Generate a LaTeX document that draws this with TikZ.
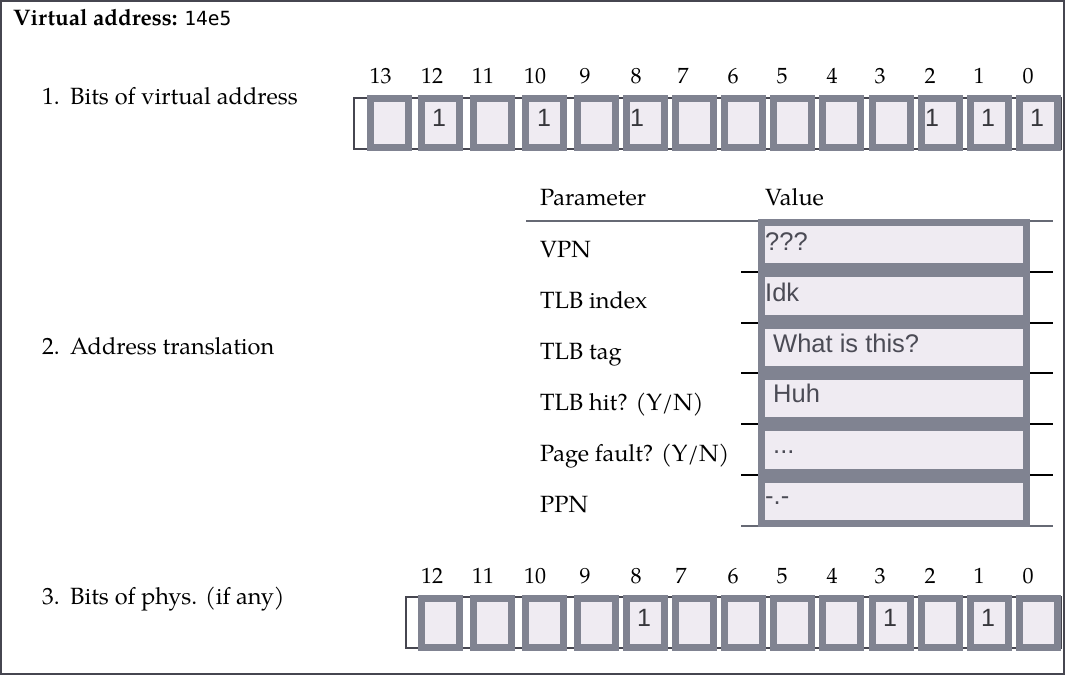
\documentclass[tikz,border=0pt]{standalone}
\usepackage{fontspec}
\setmainfont{texgyrepagella}[Extension=.otf,UprightFont=*-regular,BoldFont=*-bold,ItalicFont=*-italic,BoldItalicFont=*-bolditalic]
\newfontfamily\valfont{Liberation Sans}
\newfontfamily\codefont{DejaVu Sans Mono}
\definecolor{boxborder}{RGB}{128,131,145}
\definecolor{boxfill}{RGB}{239,235,242}
\definecolor{framecol}{RGB}{70,70,80}
\definecolor{valtext}{RGB}{75,75,85}
\definecolor{bittext}{RGB}{55,55,60}
\tikzset{
  bitbox/.style={draw=boxborder, fill=boxfill, line width=7pt, minimum width=38pt, minimum height=49pt, inner sep=0pt, outer sep=0pt},
  valbox/.style={draw=boxborder, fill=boxfill, line width=7pt, minimum width=265pt, minimum height=44.3pt, inner sep=0pt, outer sep=0pt},
  serif/.style={font=\fontsize{23.5}{27}\selectfont, inner sep=0pt, text=black, anchor=base west},
  numlab/.style={font=\fontsize{22}{26}\selectfont, inner sep=0pt, text=black, anchor=base},
  bitval/.style={font=\valfont\fontsize{25}{29}\selectfont, inner sep=0pt, text=bittext, anchor=base},
  valtxt/.style={font=\valfont\fontsize{25.5}{29}\selectfont, inner sep=0pt, text=valtext, anchor=base west},
  backrect/.style={draw=framecol, line width=1.5pt},
  headline/.style={draw=boxborder!80!black, line width=1.6pt},
  rowline/.style={draw=black, line width=1.1pt}
}
\begin{document}
\begin{tikzpicture}[x=1pt,y=-1pt]
\useasboundingbox (0,0) rectangle (1067,675);
\fill[white] (0,0) rectangle (1067,675);
\draw[framecol, line width=1.3pt] (1,1) rectangle (1064,674);

% title
\node[serif, font=\fontsize{22.5}{26}\selectfont] (title) at (13,25) {\textbf{Virtual address:}\hspace{7pt}{\codefont\fontsize{19.5}{22}\selectfont 14e5}};

% section labels
\node[serif] (s1n) at (42,104) {1.};
\node[serif] (s1) at (70,104) {Bits of virtual address};
\node[serif] (s2n) at (42,354) {2.};
\node[serif] (s2) at (70,354) {Address translation};
\node[serif] (s3n) at (42,604) {3.};
\node[serif] (s3) at (70,604) {Bits of phys. (if any)};

% top bit row
\draw[backrect] (354,98) rectangle (1061,149);
\foreach \i/\x/\c/\n in {0/367/380.5/13,1/418/432/12,2/470/483/11,3/522/535/10,4/574/585/9,5/623/636/8,6/672/683/7,7/721/733/6,8/770/782/5,9/819/832/4,10/869/880/3,11/918/930/2,12/967/979/1,13/1016/1028/0}{
  \node[bitbox] (t\i) at (\x+22.5,123) {};
  \node[numlab] (tn\i) at (\c,83) {\n};
}
\foreach \i/\x in {1/439,3/544,5/637,11/932,12/988,13/1037}{
  \node[bitval] (tv\i) at (\x,126) {1};
}

% bottom bit row
\draw[backrect] (406,597) rectangle (1061,648);
\foreach \i/\x/\c/\n in {1/418/432/12,2/470/483/11,3/522/535/10,4/574/585/9,5/623/636/8,6/672/681/7,7/721/733/6,8/770/782/5,9/819/832/4,10/869/880/3,11/918/930/2,12/967/979/1,13/1016/1028/0}{
  \node[bitbox] (b\i) at (\x+22.5,623) {};
  \node[numlab] (bn\i) at (\c,583) {\n};
}
\foreach \i/\x in {5/644,10/890,12/988}{
  \node[bitval] (bv\i) at (\x,626) {1};
}

% table
\node[serif] (hp) at (540,205) {Parameter};
\node[serif] (hv) at (765,205) {Value};
\draw[headline] (526,221) -- (1053,221);
\foreach \y in {272,323,373,424,475}{
  \draw[rowline] (741,\y) -- (1053,\y);
}
\draw[headline] (741,526) -- (1053,526);

\foreach \k/\p in {0/{VPN},1/{TLB index},2/{TLB tag},3/{TLB hit? (Y/N)},4/{Page fault? (Y/N)},5/{PPN}}{
  \node[serif] (p\k) at (540,257+51*\k) {\p};
  \node[valbox] (v\k) at (894,219+51.3*\k+25.65) {};
}
\node[valtxt] (vt0) at (765,250) {???};
\node[valtxt] (vt1) at (765,301) {Idk};
\node[valtxt] (vt2) at (773,352) {What is this?};
\node[valtxt] (vt3) at (773,402) {Huh};
\node[valtxt] (vt4) at (773,453) {...};
\node[valtxt] (vt5) at (765,504) {-.-};
\end{tikzpicture}
\end{document}
